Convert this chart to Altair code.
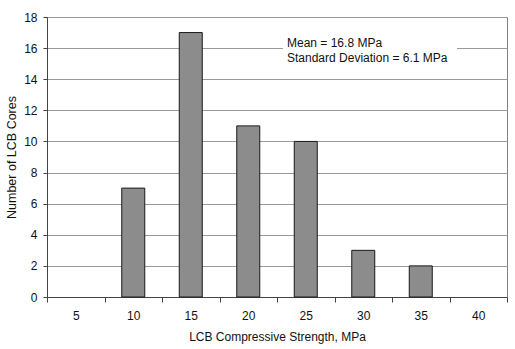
import altair as alt
import pandas as pd

categories = ["5", "10", "15", "20", "25", "30", "35", "40"]
counts = [0, 7, 17, 11, 10, 3, 2, 0]
note_lines = ["Mean = 16.8 MPa", "Standard Deviation = 6.1 MPa"]
note_y = [16.35, 15.35]

df = pd.DataFrame({"strength": categories, "count": counts})
notes = pd.DataFrame({"text": note_lines, "y": note_y})
box = pd.DataFrame({"y": [15.0], "y2": [17.1]})

FONT = "Liberation Sans"

x_enc = alt.X(
    "strength:N",
    sort=categories,
    scale=alt.Scale(domain=categories, paddingInner=0, paddingOuter=0),
    axis=alt.Axis(
        title="LCB Compressive Strength, MPa",
        labelAngle=0,
        tickBand="extent",
        tickSize=5,
        labelPadding=8,
        titlePadding=10,
        grid=False,
    ),
)
y_scale = alt.Scale(domain=[0, 18])
y_axis = alt.Axis(
    title="Number of LCB Cores",
    values=list(range(0, 19, 2)),
    labelOverlap=False,
    tickSize=4,
    labelPadding=6,
    titlePadding=5,
    titleFontSize=12.5,
    grid=True,
)

bars = alt.Chart(df).mark_bar(
    fill="#8c8c8c", stroke="#1a1a1a", strokeWidth=1,
    width=alt.RelativeBandSize(0.4),
).encode(
    x=x_enc,
    y=alt.Y("count:Q", scale=y_scale, axis=y_axis),
).transform_filter("datum.count > 0")

bg = alt.Chart(box).mark_rect(fill="white").encode(
    x=alt.value(236), x2=alt.value(410),
    y=alt.Y("y:Q", scale=y_scale, axis=y_axis), y2="y2:Q",
)

text = alt.Chart(notes).mark_text(
    align="left", baseline="middle", font=FONT, fontSize=12, color="#111"
).encode(
    x=alt.value(240),
    y=alt.Y("y:Q", scale=y_scale, axis=y_axis),
    text="text:N",
)

chart = alt.layer(bars, bg, text).properties(
    width=460,
    height=280,
    autosize=alt.AutoSizeParams(type="none"),
    padding={"left": 47, "top": 17, "right": 8, "bottom": 52},
    background="white",
).configure_view(
    stroke="#808080", strokeWidth=1
).configure_axis(
    labelFont=FONT, titleFont=FONT, labelFontSize=12, titleFontSize=12,
    titleFontWeight="normal", labelColor="#111", titleColor="#111",
    domainColor="#444", tickColor="#444", gridColor="#9a9a9a",
)

chart.save("out.html", embed_options={"renderer": "svg", "actions": False})
